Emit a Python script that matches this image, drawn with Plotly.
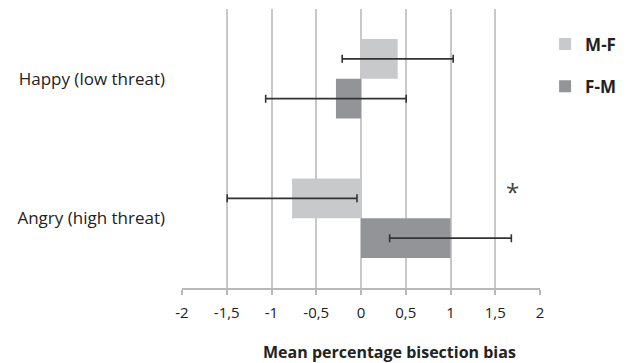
import plotly.graph_objects as go

categories = ["Happy (low threat)", "Angry (high threat)"]
series_names = ["M-F", "F-M"]
mf_values = [0.41, -0.77]
mf_errors = [0.62, 0.725]
fm_values = [-0.28, 1.00]
fm_errors = [0.785, 0.68]
tick_vals = [-2, -1.5, -1, -0.5, 0, 0.5, 1, 1.5, 2]
tick_text = ["-2", "-1,5", "-1", "-0,5", "0", "0,5", "1", "1,5", "2"]

colors = ["#c8c9cb", "#939497"]
FONT = "Open Sans"

fig = go.Figure()
for name, vals, errs, col in zip(series_names, [mf_values, fm_values], [mf_errors, fm_errors], colors):
    fig.add_trace(go.Bar(
        y=categories, x=vals, orientation="h", name="<b>" + name + "</b>",
        marker=dict(color=col, line=dict(width=0)),
        error_x=dict(type="data", array=errs, visible=True, color="#333333", thickness=1.6, width=4),
        legendgroup=name,
    ))

fig.add_annotation(x=1.69, y=categories[1], yshift=27, text="*", showarrow=False,
                   font=dict(family=FONT, size=24, color="#444444"))
fig.add_annotation(x=0.58, y=-0.228, xref="paper", yref="paper", yanchor="middle",
                   text="<b>Mean percentage bisection bias</b>", showarrow=False,
                   font=dict(family=FONT, size=16, color="#222222"))

fig.update_layout(
    width=628, height=363,
    margin=dict(l=182, r=88, t=9, b=75, autoexpand=False),
    plot_bgcolor="white", paper_bgcolor="white",
    barmode="group", bargap=0.43, bargroupgap=0,
    showlegend=True,
    legend=dict(xref="container", yref="container", x=0.868, y=0.927, xanchor="left", yanchor="top",
                font=dict(family=FONT, size=17, color="#222222"),
                traceorder="grouped", tracegroupgap=17, itemwidth=30, bgcolor="rgba(0,0,0,0)"),
    font=dict(family=FONT, color="#333333"),
)
fig.update_xaxes(range=[-2, 2], tickvals=tick_vals, ticktext=tick_text, showgrid=True, gridcolor="#c8c8c8", gridwidth=1.5,
                 showline=True, linecolor="#b8b8b8", linewidth=1.5, ticks="outside", ticklen=5,
                 tickcolor="#b8b8b8", tickwidth=1.5, zeroline=False, ticklabelstandoff=5,
                 tickfont=dict(family=FONT, size=15, color="#222222"))
fig.update_yaxes(autorange="reversed", showgrid=False, showline=False, ticks="", ticklabelstandoff=16,
                 tickfont=dict(family=FONT, size=17, color="#222222"))

fig.write_html("out.html", post_script="document.body.style.margin='0';",
               config={"displayModeBar": False})
